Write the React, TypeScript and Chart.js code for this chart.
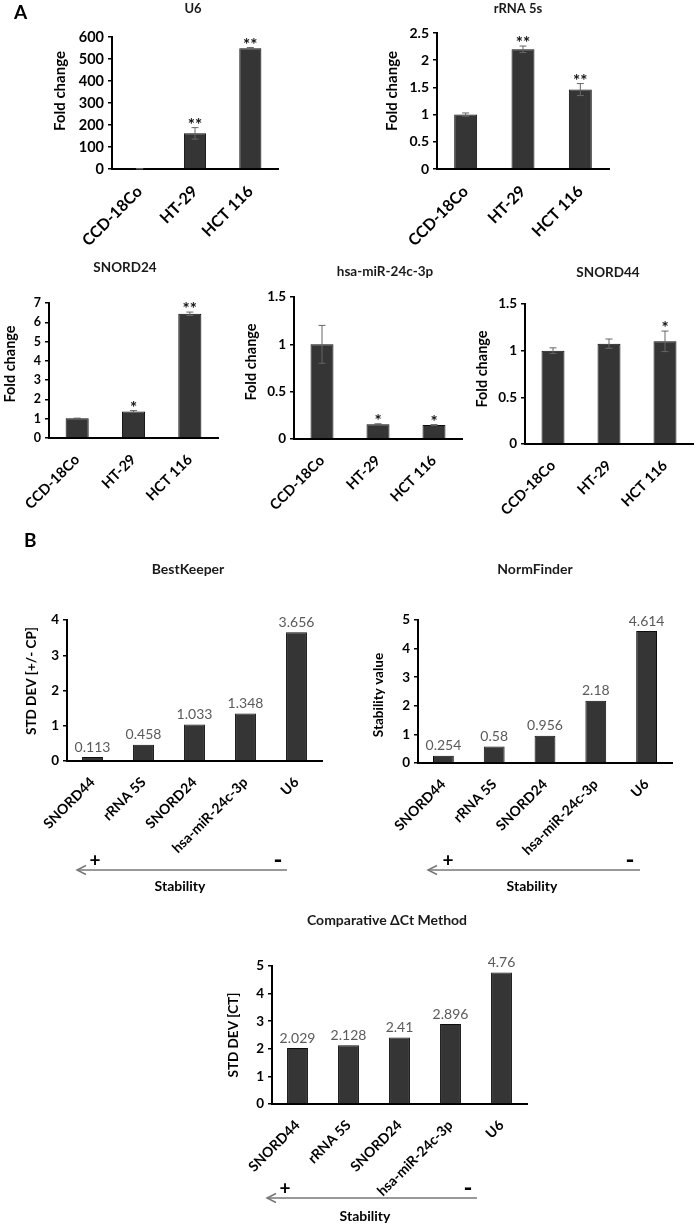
import React, { useEffect, useRef } from 'react';
import { Chart, registerables } from 'chart.js';
Chart.register(...registerables);

// ---------- data ----------
const cellLines = ['CCD-18Co', 'HT-29', 'HCT 116'];

const u6Fold = [1, 162, 549];
const u6Err = [0.5, 26, 3];
const u6Stars = ['', '**', '**'];

const rrnaFold = [1.0, 2.2, 1.46];
const rrnaErr = [0.03, 0.06, 0.11];
const rrnaStars = ['', '**', '**'];

const snord24Fold = [1.02, 1.37, 6.44];
const snord24Err = [0.01, 0.05, 0.09];
const snord24Stars = ['', '*', '**'];

const mirFold = [1.0, 0.157, 0.148];
const mirErr = [0.2, 0.004, 0.004];
const mirStars = ['', '*', '*'];

const snord44Fold = [1.0, 1.075, 1.1];
const snord44Err = [0.03, 0.05, 0.11];
const snord44Stars = ['', '', '*'];

const genes = ['SNORD44', 'rRNA 5S', 'SNORD24', 'hsa-miR-24c-3p', 'U6'];
const bestKeeperSD = [0.113, 0.458, 1.033, 1.348, 3.656];
const normFinderValue = [0.254, 0.58, 0.956, 2.18, 4.614];
const deltaCtSD = [2.029, 2.128, 2.41, 2.896, 4.76];

const FONT = 'Lato';
const W = 697;
const H = 1227;

type Panel = {
  title: string; titleX: number; titleY: number; titleSize: number;
  yTitle: string; yTitleX: number; yTitleY: number; yTitleSize: number;
  labels: string[]; values: number[]; errors?: number[]; stars?: string[]; showValues?: boolean;
  max: number; step: number;
  l: number; t: number; r: number; b: number;
  tickSize: number; xSize: number; barPct: number;
};

const panels: Panel[] = [
  { title: 'U6', titleX: 193, titleY: 9, titleSize: 13, yTitle: 'Fold change', yTitleX: 60, yTitleY: 91, yTitleSize: 15,
    labels: cellLines, values: u6Fold, errors: u6Err, stars: u6Stars, max: 600, step: 100,
    l: 112, t: 37, r: 278, b: 169, tickSize: 14.5, xSize: 16, barPct: 0.4 },
  { title: 'rRNA 5s', titleX: 518, titleY: 9, titleSize: 13, yTitle: 'Fold change', yTitleX: 392, yTitleY: 91, yTitleSize: 15,
    labels: cellLines, values: rrnaFold, errors: rrnaErr, stars: rrnaStars, max: 2.5, step: 0.5,
    l: 437, t: 33, r: 609, b: 169, tickSize: 14, xSize: 16, barPct: 0.4 },
  { title: 'SNORD24', titleX: 125, titleY: 268, titleSize: 13.5, yTitle: 'Fold change', yTitleX: 10, yTitleY: 364, yTitleSize: 14.5,
    labels: cellLines, values: snord24Fold, errors: snord24Err, stars: snord24Stars, max: 7, step: 1,
    l: 49, t: 303, r: 218, b: 438, tickSize: 12.5, xSize: 14.5, barPct: 0.41 },
  { title: 'hsa-miR-24c-3p', titleX: 385, titleY: 272, titleSize: 13.5, yTitle: 'Fold change', yTitleX: 251, yTitleY: 362, yTitleSize: 14.5,
    labels: cellLines, values: mirFold, errors: mirErr, stars: mirStars, max: 1.5, step: 0.5,
    l: 294, t: 297, r: 462, b: 439, tickSize: 13.5, xSize: 14.5, barPct: 0.41 },
  { title: 'SNORD44', titleX: 608, titleY: 273, titleSize: 13.5, yTitle: 'Fold change', yTitleX: 482, yTitleY: 369, yTitleSize: 14.5,
    labels: cellLines, values: snord44Fold, errors: snord44Err, stars: snord44Stars, max: 1.5, step: 0.5,
    l: 525, t: 304, r: 693, b: 444, tickSize: 13.5, xSize: 14.5, barPct: 0.41 },
  { title: 'BestKeeper', titleX: 188, titleY: 569, titleSize: 14, yTitle: 'STD DEV [+/- CP]', yTitleX: 32, yTitleY: 681, yTitleSize: 13.5,
    labels: genes, values: bestKeeperSD, showValues: true, max: 4, step: 1,
    l: 67, t: 620, r: 322, b: 761, tickSize: 13.5, xSize: 14, barPct: 0.41 },
  { title: 'NormFinder', titleX: 535, titleY: 569, titleSize: 14, yTitle: 'Stability value', yTitleX: 379, yTitleY: 695, yTitleSize: 13.5,
    labels: genes, values: normFinderValue, showValues: true, max: 5, step: 1,
    l: 418, t: 620, r: 672, b: 763, tickSize: 13.5, xSize: 14, barPct: 0.41 },
  { title: 'Comparative \u0394Ct Method', titleX: 387, titleY: 920, titleSize: 14, yTitle: 'STD DEV [CT]', yTitleX: 234, yTitleY: 1035, yTitleSize: 13.5,
    labels: genes, values: deltaCtSD, showValues: true, max: 5, step: 1,
    l: 272, t: 966, r: 527, b: 1104, tickSize: 13.5, xSize: 14, barPct: 0.41 },
];

const arrows = [
  { x1: 77, x2: 287, y: 870, plusX: 95, minusX: 278, textX: 180, textY: 887 },
  { x1: 428, x2: 640, y: 870, plusX: 448, minusX: 630, textX: 532, textY: 887 },
  { x1: 267, x2: 477, y: 1198, plusX: 285, minusX: 468, textX: 365, textY: 1217 },
];

const Y_W = 45;
const X_H = 120;

const annotPlugin = {
  id: 'annot',
  afterDatasetsDraw(chart: any, _args: any, opts: any) {
    const p: Panel = opts.panel;
    const ctx: CanvasRenderingContext2D = chart.ctx;
    const ys = chart.scales.y;
    const meta = chart.getDatasetMeta(0);
    ctx.save();
    meta.data.forEach((bar: any, i: number) => {
      const v = p.values[i];
      let top = bar.y;
      if (p.errors) {
        const e = p.errors[i];
        const y1 = ys.getPixelForValue(v + e);
        const y2 = ys.getPixelForValue(v - e);
        ctx.strokeStyle = '#666';
        ctx.lineWidth = 1;
        ctx.beginPath();
        ctx.moveTo(bar.x, y1); ctx.lineTo(bar.x, y2);
        ctx.moveTo(bar.x - 3.5, y1); ctx.lineTo(bar.x + 3.5, y1);
        ctx.moveTo(bar.x - 3.5, y2); ctx.lineTo(bar.x + 3.5, y2);
        ctx.stroke();
        top = Math.min(top, y1);
      }
      if (p.stars && p.stars[i]) {
        ctx.fillStyle = '#111';
        ctx.font = `bold 17px ${FONT}`;
        ctx.textAlign = 'center';
        ctx.textBaseline = 'alphabetic';
        ctx.fillText(p.stars[i], bar.x, top + 3);
      }
      if (p.showValues) {
        ctx.fillStyle = '#5a5a5a';
        ctx.font = `14px ${FONT}`;
        ctx.textAlign = 'center';
        ctx.textBaseline = 'bottom';
        ctx.fillText(String(v), bar.x, bar.y - 3);
      }
    });
    // chart title
    ctx.fillStyle = '#1a1a1a';
    ctx.font = `bold ${p.titleSize}px ${FONT}`;
    ctx.textAlign = 'center';
    ctx.textBaseline = 'middle';
    ctx.fillText(p.title, p.titleX, p.titleY);
    // y title
    ctx.save();
    ctx.translate(p.yTitleX, p.yTitleY);
    ctx.rotate(-Math.PI / 2);
    ctx.fillStyle = '#000';
    ctx.font = `bold ${p.yTitleSize}px ${FONT}`;
    ctx.fillText(p.yTitle, 0, 0);
    ctx.restore();
    ctx.restore();
  },
};

function BarPanel({ p }: { p: Panel }) {
  const ref = useRef<HTMLCanvasElement | null>(null);
  useEffect(() => {
    if (!ref.current) return;
    const chart = new Chart(ref.current, {
      type: 'bar',
      data: {
        labels: p.labels,
        datasets: [{
          data: p.values,
          backgroundColor: '#353535',
          borderColor: '#0d0d0d',
          borderWidth: 1,
          categoryPercentage: 1,
          barPercentage: p.barPct,
        }],
      },
      options: {
        responsive: false,
        animation: false,
        layout: { padding: { left: p.l - Y_W, top: p.t, right: W - p.r, bottom: H - p.b - X_H } },
        plugins: { legend: { display: false }, tooltip: { enabled: false }, title: { display: false }, annot: { panel: p } } as any,
        scales: {
          x: {
            type: 'category',
            grid: { display: false },
            border: { display: true, color: '#000', width: 2 },
            ticks: { minRotation: 45, maxRotation: 45, autoSkip: false, padding: 5, color: '#000', font: { family: FONT, weight: 'bold', size: p.xSize } },
            afterFit: (s: any) => { s.height = X_H; },
          },
          y: {
            min: 0, max: p.max,
            grid: { display: true, drawOnChartArea: false, drawTicks: true, tickLength: 4, color: '#000', lineWidth: 1.5 },
            border: { display: true, color: '#000', width: 2 },
            ticks: {
              stepSize: p.step, autoSkip: false, padding: 4, color: '#000',
              font: { family: FONT, weight: 'bold', size: p.tickSize },
              callback: (v: any) => String(Math.round(Number(v) * 100) / 100),
            },
            afterFit: (s: any) => { s.width = Y_W; },
          },
        },
      } as any,
      plugins: [annotPlugin],
    });
    return () => chart.destroy();
  }, [p]);
  return (
    <canvas ref={ref} width={W} height={H}
      style={{ position: 'absolute', left: 0, top: 0, width: W, height: H, pointerEvents: 'none' }} />
  );
}

export default function App() {
  useEffect(() => {
    document.body.style.margin = '0';
  }, []);
  return (
    <div style={{ position: 'absolute', left: 0, top: 0, width: W, height: H, background: '#fff', fontFamily: FONT, overflow: 'hidden' }}>
      {panels.map((p, i) => <BarPanel key={i} p={p} />)}
      <svg width={W} height={H} style={{ position: 'absolute', left: 0, top: 0 }}>
        <text x={14} y={19} fontFamily={FONT} fontWeight="bold" fontSize={19} fill="#000">A</text>
        <text x={24} y={547} fontFamily={FONT} fontWeight="bold" fontSize={19} fill="#000">B</text>
        {arrows.map((a, i) => (
          <g key={i}>
            <line x1={a.x1} y1={a.y} x2={a.x2} y2={a.y} stroke="#777" strokeWidth={1.5} />
            <polyline points={`${a.x1 + 9},${a.y - 4.5} ${a.x1},${a.y} ${a.x1 + 9},${a.y + 4.5}`} fill="none" stroke="#777" strokeWidth={1.5} />
            <text x={a.plusX} y={a.y - 3} textAnchor="middle" fontFamily={FONT} fontWeight="bold" fontSize={19} fill="#000">+</text>
            <text x={a.minusX} y={a.y - 2} textAnchor="middle" fontFamily={FONT} fontWeight="bold" fontSize={24} fill="#000">-</text>
            <text x={a.textX} y={a.textY} textAnchor="middle" dominantBaseline="middle" fontFamily={FONT} fontWeight="bold" fontSize={14} fill="#000">Stability</text>
          </g>
        ))}
      </svg>
    </div>
  );
}
